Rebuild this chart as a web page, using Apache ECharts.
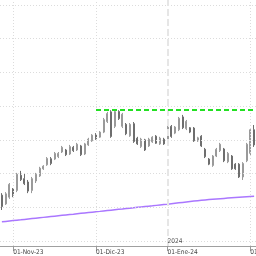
<!DOCTYPE html>
<html>
<head>
<meta charset="utf-8">
<script src="https://cdn.jsdelivr.net/npm/echarts@6/dist/echarts.min.js"></script>
<style>html,body{margin:0;padding:0;background:#fff}#c{width:256px;height:256px}</style>
</head>
<body>
<div id="c"></div>
<script>
// Trading days (category axis)
const categories = [
 '2023-10-27','2023-10-30','2023-10-31',
 '2023-11-01','2023-11-02','2023-11-03','2023-11-06','2023-11-07','2023-11-08','2023-11-09','2023-11-10',
 '2023-11-13','2023-11-14','2023-11-15','2023-11-16','2023-11-17','2023-11-20','2023-11-21','2023-11-22',
 '2023-11-23','2023-11-24','2023-11-27','2023-11-28','2023-11-29','2023-11-30',
 '2023-12-01','2023-12-04','2023-12-05','2023-12-06','2023-12-07','2023-12-08','2023-12-11','2023-12-12',
 '2023-12-13','2023-12-14','2023-12-15','2023-12-18','2023-12-19','2023-12-20','2023-12-21','2023-12-22',
 '2023-12-27','2023-12-28','2023-12-29',
 '2024-01-02','2024-01-03','2024-01-04','2024-01-05','2024-01-08','2024-01-09','2024-01-10','2024-01-11',
 '2024-01-12','2024-01-15','2024-01-16','2024-01-17','2024-01-18','2024-01-19','2024-01-22','2024-01-23',
 '2024-01-24','2024-01-25','2024-01-26','2024-01-29','2024-01-30','2024-01-31',
 '2024-02-01','2024-02-02'
];
// OHLC: [open, close, low, high]
const ohlc = [
 [103.6,100.2,99.2,104.2],[101.0,104.0,100.7,104.5],[103.0,106.8,102.5,107.2],
 [105.4,103.6,103.0,105.7],[105.0,109.8,104.5,110.2],[109.5,108.2,107.8,110.8],[108.5,107.0,106.6,109.9],
 [107.5,104.8,104.2,108.1],[105.0,108.5,104.2,109.0],[107.8,109.8,107.2,110.2],[109.3,111.6,109.0,112.0],
 [111.4,112.2,111.1,112.5],[112.6,114.5,112.3,114.9],[114.4,113.0,112.5,114.9],[114.3,116.0,114.0,116.4],
 [115.0,116.0,114.6,116.4],[116.4,117.8,116.1,118.2],[117.0,115.6,115.2,117.3],[115.8,118.0,115.5,118.5],
 [117.8,116.8,116.4,118.2],[117.0,118.7,116.7,119.1],[118.2,115.6,115.2,118.5],[115.8,118.8,115.5,119.1],
 [118.5,120.2,118.2,120.6],[119.7,121.4,119.4,121.7],
 [121.5,120.3,120.0,122.0],[120.8,122.3,120.6,122.6],[122.3,126.0,122.0,126.5],[125.4,127.8,125.0,128.3],
 [128.3,121.0,120.6,128.8],[124.0,128.4,123.5,128.8],[128.4,126.3,125.9,128.8],[124.0,127.6,123.5,128.0],
 [124.6,121.8,121.4,125.0],[121.2,124.6,120.9,125.0],[124.8,119.5,119.1,125.3],[120.5,118.8,118.5,120.9],
 [118.0,120.2,117.6,120.6],[120.0,117.0,116.7,120.3],[118.2,120.2,117.9,120.6],[119.4,120.8,119.1,121.1],
 [121.1,119.0,118.8,121.4],[118.8,120.5,118.5,120.9],[120.2,118.8,118.5,120.6],
 [120.0,123.8,119.7,124.1],[124.0,121.0,120.6,124.4],[122.0,123.8,121.7,124.1],[123.0,126.4,122.6,126.8],
 [126.8,123.6,123.2,127.4],[123.3,125.5,122.9,125.9],[123.6,122.3,122.0,123.8],[123.5,119.7,119.4,123.8],
 [119.7,120.6,119.4,120.9],[121.1,118.2,117.9,121.4],[117.2,115.0,114.6,117.6],[114.3,112.8,112.5,114.6],
 [112.4,115.2,112.0,115.5],[115.2,117.2,114.9,117.6],[116.8,118.7,116.4,119.1],[117.3,113.8,113.4,117.6],
 [113.5,116.0,113.1,116.4],[115.2,111.4,111.1,115.5],[112.8,111.4,111.1,113.1],[112.8,109.0,108.7,113.1],
 [109.0,113.0,108.1,113.4],[113.8,118.7,113.4,119.1],
 [116.0,123.0,115.5,123.5],[123.0,118.5,117.9,124.4]
];
// Moving average (purple)
const movingAvg = [
 95.70,95.82,95.94,96.06,96.18,96.29,96.41,96.53,96.65,96.77,
 96.89,97.01,97.13,97.25,97.37,97.49,97.61,97.73,97.85,97.96,
 98.08,98.20,98.32,98.44,98.56,98.68,98.79,98.91,99.03,99.15,
 99.27,99.39,99.50,99.62,99.74,99.86,99.98,100.10,100.22,100.34,
 100.45,100.57,100.69,100.81,100.93,101.06,101.19,101.32,101.45,101.58,
 101.71,101.84,101.96,102.08,102.18,102.28,102.37,102.46,102.55,102.64,
 102.72,102.80,102.88,102.96,103.04,103.12,103.20,103.28
];
// Axis ticks / labels
const monthTicks = ['2023-11-01','2023-12-01','2024-01-02','2024-02-01'];
const monthLabels = ['01-Nov-23','01-Dic-23','01-Ene-24','01-Feb-24'];
const yearMarkCategory = '2024-01-02';
const yearLabel = '2024';
const gridValues = [90,100,110,120,130,140,150,160];
const resistanceStart = '2023-12-01';
const resistanceLevel = 128.8;

const tickIdx = monthTicks.map(d => categories.indexOf(d));
const fontFam = "'Liberation Sans Narrow','DejaVu Sans Condensed','Liberation Sans',sans-serif";

const chart = echarts.init(document.getElementById('c'), null, {renderer: 'canvas'});
chart.setOption({
  animation: false,
  backgroundColor: '#ffffff',
  grid: {left: 0, right: 0, top: 0, bottom: 10, containLabel: false, outerBoundsMode: 'none'},
  xAxis: {
    type: 'category',
    data: categories,
    boundaryGap: true,
    axisLine: {show: true, lineStyle: {color: '#a0a0a0', width: 1}},
    axisTick: {show: true, alignWithLabel: true, length: 5,
      interval: (i) => tickIdx.indexOf(i) >= 0, lineStyle: {color: '#999'}},
    axisLabel: {
      interval: (i) => tickIdx.indexOf(i) >= 0,
      formatter: (v) => { const k = monthTicks.indexOf(v); return k >= 0 ? monthLabels[k] : ''; },
      align: 'left', margin: 3, fontSize: 6.5, color: '#444', fontFamily: fontFam,
      hideOverlap: false
    },
    splitLine: {show: false}
  },
  yAxis: {
    type: 'value', min: 88.52, max: 161.48, show: false, splitLine: {show: false}
  },
  series: [
    {
      type: 'line',
      data: movingAvg,
      z: 1,
      symbol: 'none',
      lineStyle: {color: '#aa77ff', width: 1.5},
      markLine: {
        silent: true, symbol: 'none', label: {show: false},
        data: gridValues.map(v => ({yAxis: v, lineStyle: {color: '#dcdcdc', type: [1, 2], width: 1}}))
          .concat(monthTicks.map(d => ({xAxis: d,
            lineStyle: d === yearMarkCategory
              ? {color: '#e6e6e6', type: [7, 3], width: 2}
              : {color: '#dcdcdc', type: [1, 2], width: 1}})))
      },
      markPoint: {
        silent: true,
        symbol: 'circle', symbolSize: 0,
        data: [{coord: [yearMarkCategory, 89.8]}],
        label: {show: true, formatter: yearLabel, position: 'right', distance: 0,
          fontSize: 6.5, color: '#555', fontFamily: fontFam}
      }
    },
    {
      type: 'candlestick',
      data: ohlc,
      z: 2,
      barWidth: 1.5,
      itemStyle: {color: '#c4c4c4', color0: '#777777', borderColor: '#9a9a9a', borderColor0: '#6e6e6e', borderWidth: 1},
      markLine: {
        silent: true, symbol: 'none', label: {show: false},
        lineStyle: {color: '#22e022', type: [5, 3], width: 2},
        data: [[{coord: [resistanceStart, resistanceLevel]}, {coord: [categories[categories.length - 1], resistanceLevel]}]]
      }
    }
  ]
});
</script>
</body>
</html>
